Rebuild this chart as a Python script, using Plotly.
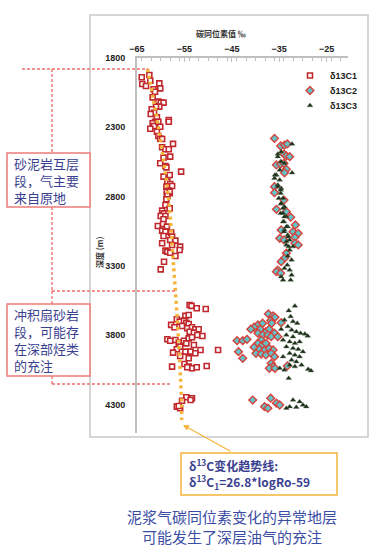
import plotly.graph_objects as go

# ---------------- data ----------------
c1_delta = [-64.0, -62.4, -62.2, -63.9, -63.1, -60.3, -60.1, -61.5, -61.2, -61.7,
            -60.5, -60.0, -59.4, -60.3, -61.0, -61.9, -61.4, -62.1, -60.8, -61.2,
            -61.7, -61.4, -62.2, -60.5, -58.3, -58.3, -60.1, -60.8, -60.5, -60.1,
            -59.7, -57.4, -59.7, -59.0, -58.3, -58.0, -59.4, -60.1, -59.0, -58.8,
            -55.7, -59.4, -58.1, -58.6, -58.0, -58.8, -57.6, -58.3, -58.1, -58.7,
            -58.7, -58.1, -58.6, -58.8, -59.0, -58.1, -59.7, -59.4, -60.0, -59.0,
            -59.4, -60.6, -59.5, -58.7, -59.7, -59.0, -57.8, -59.4, -57.6, -58.0,
            -56.9, -59.7, -57.6, -55.9, -56.0, -59.0, -58.6, -58.0, -56.9, -59.3,
            -60.0,
            -53.9, -53.5, -52.4, -50.5, -54.8, -54.1, -56.6, -56.0, -55.1, -54.6,
            -54.1, -57.8, -57.1, -55.5, -54.4, -53.4, -52.7, -52.0, -53.9, -53.0,
            -52.3, -51.2, -58.6, -58.0, -56.9, -56.2, -55.1, -54.1, -53.4, -54.6,
            -53.0, -55.9, -56.6, -57.4, -54.8, -53.7, -52.7, -51.6, -55.9, -54.1,
            -47.9, -57.6, -55.0, -54.1, -53.4, -52.4, -50.3, -54.4, -54.6, -53.4,
            -53.7, -55.5, -56.6, -55.9, -56.2]
c1_depth = [1939, 1923, 1964, 1988, 2002, 1983, 2019, 2026, 2043, 2084,
            2115, 2122, 2122, 2151, 2151, 2170, 2195, 2204, 2228, 2260,
            2271, 2291, 2310, 2260, 2247, 2260, 2296, 2332, 2363, 2382,
            2385, 2420, 2444, 2459, 2459, 2512, 2519, 2560, 2579, 2589,
            2620, 2656, 2644, 2692, 2709, 2728, 2724, 2757, 2776, 2788,
            2764, 2764, 2796, 2820, 2861, 2885, 2901, 2921, 2940, 2940,
            2964, 3012, 2998, 3017, 3046, 3053, 3060, 3084, 3089, 3113,
            3118, 3137, 3149, 3161, 3185, 3190, 3197, 3205, 3229, 3270,
            3325,
            3582, 3589, 3606, 3611, 3661, 3654, 3685, 3702, 3695, 3710,
            3719, 3726, 3743, 3734, 3750, 3743, 3757, 3757, 3775, 3782,
            3799, 3806, 3830, 3840, 3835, 3854, 3840, 3823, 3815, 3859,
            3871, 3883, 3902, 3926, 3919, 3919, 3931, 3907, 3950, 3967,
            3907, 4027, 4008, 4027, 4039, 4032, 4022, 4032, 4248, 4255,
            4268, 4273, 4316, 4327, 4311]

c2_delta = [-36.0, -34.7, -33.9, -33.3, -34.0, -33.5, -32.8, -35.6, -34.7, -34.0,
            -33.5, -33.9, -36.0, -36.0, -34.0, -35.6, -33.5, -32.6, -31.6, -32.1,
            -31.0, -31.7, -34.6, -34.9, -34.0, -31.7, -31.0, -33.5, -33.9, -34.6,
            -35.3, -35.6, -34.7,
            -37.3, -36.3, -35.9, -36.8, -36.6, -34.6, -39.5, -38.5, -40.3, -41.0,
            -39.0, -37.8, -37.1, -36.0, -39.5, -38.5, -37.4, -36.7, -38.8, -43.9,
            -42.7, -41.8, -39.5, -38.5, -37.8, -40.3, -39.2, -38.1, -37.1, -36.3,
            -39.9, -38.8, -37.8, -36.7, -36.0, -35.3, -43.6, -42.7, -36.7, -36.3,
            -37.1, -35.9, -33.3, -40.6, -36.8, -38.1, -37.4, -35.6, -34.9]
c2_depth = [2380, 2435, 2428, 2420, 2493, 2507, 2512, 2572, 2565, 2560,
            2603, 2628, 2729, 2772, 2825, 2892, 2909, 2949, 3005, 3053,
            3065, 3094, 3041, 3101, 3113, 3137, 3149, 3209, 3245, 3270,
            3330, 3342, 3353,
            3647, 3661, 3671, 3695, 3714, 3710, 3726, 3714, 3743, 3757,
            3757, 3775, 3757, 3786, 3786, 3799, 3799, 3811, 3835, 3840,
            3840, 3830, 3859, 3871, 3859, 3887, 3902, 3907, 3895, 3907,
            3931, 3936, 3943, 3931, 3955, 3811, 3919, 3967, 4003, 4027,
            4039, 4039, 4022, 4268, 4255, 4316, 4327, 4291, 4304]

c3_delta = [-32.3, -35.3, -34.6, -32.3, -35.6, -34.9, -35.3, -34.6, -34.7, -34.2,
            -34.6, -33.9, -34.2, -33.5, -34.0, -33.2, -33.9, -33.2, -32.8, -33.5,
            -32.1, -32.8, -33.2, -32.4, -33.3, -33.9, -32.8, -32.4, -34.6, -34.2,
            -32.6,
            -34.6, -35.3, -33.9, -34.9, -35.9, -36.0, -35.3, -34.7, -35.1, -34.6,
            -34.2, -34.7, -33.9, -34.2, -33.5, -34.0, -33.1, -33.5, -33.0,
            -31.7, -33.0, -32.6, -33.9, -32.1, -31.2, -33.2, -34.6, -32.4, -31.4,
            -30.5, -33.5, -32.1, -29.6, -29.0, -34.2, -32.8, -31.7, -30.7, -33.5,
            -32.1, -31.0, -30.0, -32.8, -31.7, -30.7, -34.2, -32.4, -31.4, -30.3,
            -32.8, -31.7, -28.9, -28.3, -33.0, -33.9, -34.9,
            -32.1, -30.7, -30.0, -32.8, -31.4, -33.5, -29.3]
c3_depth = [2420, 2493, 2548, 2628, 2644, 2680, 2716, 2740, 2776, 2812,
            2853, 2873, 2921, 2945, 2981, 3017, 3041, 3077, 3113, 3149,
            3161, 3185, 3229, 3257, 3294, 3317, 3330, 3366, 3378, 3402,
            3402,
            2476, 2512, 2560, 2608, 2644, 2668, 2728, 2752, 2812, 2849,
            2885, 2921, 2945, 2981, 3017, 3053, 3089, 3125, 3161,
            3589, 3623, 3666, 3690, 3702, 3714, 3738, 3757, 3762, 3775,
            3786, 3799, 3811, 3791, 3806, 3835, 3847, 3859, 3847, 3883,
            3895, 3902, 3919, 3931, 3943, 3955, 3955, 3979, 3991, 4015,
            4015, 4027, 4046, 4056, 4111, 4051, 4039,
            4268, 4280, 4304, 4316, 4320, 4327, 4316]

trend_delta = [-62.8, -60.5, -58.4, -57.3, -56.3, -55.6, -55.6]
trend_depth = [1879, 2298, 2796, 3294, 3799, 4297, 4412]

x_ticks = [-65, -55, -45, -35, -25]
y_ticks = [1800, 2300, 2800, 3300, 3800, 4300]
series_names = ["δ13C1", "δ13C2", "δ13C3"]

# ---------------- layout helpers ----------------
W, H = 384, 552
L, R, T, B = 137, 348, 58, 433


def px(x):
    return (x - L) / (R - L)


def py(y):
    return (B - y) / (B - T)


CJK = "Noto Sans CJK SC"
ARIAL = "Liberation Sans"
NAVY = "#3b3f8f"
RED_DASH = "#ef6c6c"
ORANGE = "#f6b43a"

fig = go.Figure()
fig.add_trace(go.Scatter(
    x=c1_delta, y=c1_depth, mode="markers", name=series_names[0], legend="legend",
    marker=dict(symbol="square", size=5, color="white",
                line=dict(color="#c0282d", width=1.6))))
fig.add_trace(go.Scatter(
    x=c2_delta, y=c2_depth, mode="markers", name=series_names[1], legend="legend2",
    marker=dict(symbol="diamond", size=6, color="#62c3c9",
                line=dict(color="#d6423c", width=1.4))))
fig.add_trace(go.Scatter(
    x=c3_delta, y=c3_depth, mode="markers", name=series_names[2], legend="legend3",
    marker=dict(symbol="triangle-up", size=5, color="#1b2e18",
                line=dict(color="#5d7058", width=0.4))))
fig.add_trace(go.Scatter(
    x=trend_delta, y=trend_depth, mode="lines", showlegend=False,
    line=dict(color=ORANGE, width=3.5, dash="3px,3.5px", shape="spline"),
    hoverinfo="skip"))

shapes = []
# outer chart frame
shapes.append(dict(type="rect", xref="paper", yref="paper",
                   x0=px(90), x1=px(368), y0=py(437), y1=py(15),
                   line=dict(color="#c9c9c9", width=1.5), layer="below"))


def dline(x0, y0, x1, y1):
    shapes.append(dict(type="line", xref="paper", yref="paper",
                       x0=px(x0), x1=px(x1), y0=py(y0), y1=py(y1),
                       line=dict(color=RED_DASH, width=1.3, dash="3px,2px")))


dline(22, 69, 148, 69)
dline(52, 69, 52, 153)
dline(52, 207, 52, 291)
dline(52, 291, 177, 291)
dline(52, 291, 52, 304)
dline(52, 376, 52, 384)
dline(52, 384, 172, 384)

# left boxes
for (y0, y1) in [(153, 207), (304, 376)]:
    shapes.append(dict(type="rect", xref="paper", yref="paper",
                       x0=px(7), x1=px(90), y0=py(y1), y1=py(y0),
                       fillcolor="white",
                       line=dict(color="#ee7b7b", width=1.5)))
# formula box
shapes.append(dict(type="rect", xref="paper", yref="paper",
                   x0=px(181), x1=px(337), y0=py(495), y1=py(453),
                   fillcolor="white", line=dict(color=ORANGE, width=1.5)))

ann = []


def text(x, y, s, size, color, xanchor="left", bold=False, family=CJK, angle=0,
         align="left"):
    ann.append(dict(x=px(x), y=py(y), xref="paper", yref="paper", text=s,
                    showarrow=False, xanchor=xanchor, yanchor="middle",
                    textangle=angle, align=align,
                    font=dict(size=size, color=color, family=family,
                              weight="bold" if bold else "normal")))


# axis titles
text(221, 33, "碳同位素值 ‰", 8, "#333333", xanchor="center", bold=True)
text(99, 252, "深度 (m)", 8, "#333333", xanchor="center", bold=True, angle=-90)

# box texts
text(12, 180, "砂泥岩互层<br>段，气主要<br>来自原地", 13, NAVY)
text(12, 340, "冲积扇砂岩<br>段，可能存<br>在深部烃类<br>的充注", 13, NAVY)

# formula text
text(187, 465, "δ<sup>13</sup>C变化趋势线:", 12, NAVY, bold=True)
text(187, 482, "δ<sup>13</sup>C<sub>1</sub>=26.8*logRo-59", 12, NAVY, bold=True)

# bottom caption
text(232, 526, "泥浆气碳同位素变化的异常地层<br>可能发生了深层油气的充注", 15,
     "#3c4ea3", xanchor="center", align="center")

# arrow
ann.append(dict(x=px(183), y=py(425), xref="paper", yref="paper", text="",
                showarrow=True, ax=49, ay=27, arrowhead=2, arrowsize=1,
                arrowwidth=1.2, arrowcolor=ORANGE))

leg_font = dict(family=ARIAL, size=9, color="#222222", weight="bold")


def leg(ytop):
    return dict(x=px(290), y=py(ytop), xanchor="left", yanchor="top",
                bgcolor="rgba(0,0,0,0)", itemwidth=30, font=leg_font)


fig.update_layout(
    width=W, height=H,
    margin=dict(l=L, r=W - R, t=T, b=H - B, pad=0),
    paper_bgcolor="white", plot_bgcolor="white",
    showlegend=True,
    legend=leg(61), legend2=leg(76), legend3=leg(91),
    xaxis=dict(range=[-65, -20.5], side="top", tickvals=x_ticks,
               showline=True, linecolor="#bfbfbf", linewidth=2,
               ticks="inside", ticklen=4, tickcolor="#bfbfbf", tickwidth=1,
               minor=dict(dtick=2, ticks="inside", ticklen=3, tickcolor="#bfbfbf"),
               showgrid=False, zeroline=False,
               tickfont=dict(family=ARIAL, size=9, color="#222222", weight="bold")),
    yaxis=dict(range=[4506, 1800], tickvals=y_ticks,
               showline=True, linecolor="#bfbfbf", linewidth=2,
               ticks="", showgrid=False, zeroline=False, ticklabelstandoff=8,
               tickfont=dict(family=ARIAL, size=9, color="#222222", weight="bold")),
    shapes=shapes, annotations=ann,
)

fig.write_html("out.html",
               config={"displayModeBar": False},
               post_script="document.body.style.margin='0';"
                           "document.body.style.padding='0';")
